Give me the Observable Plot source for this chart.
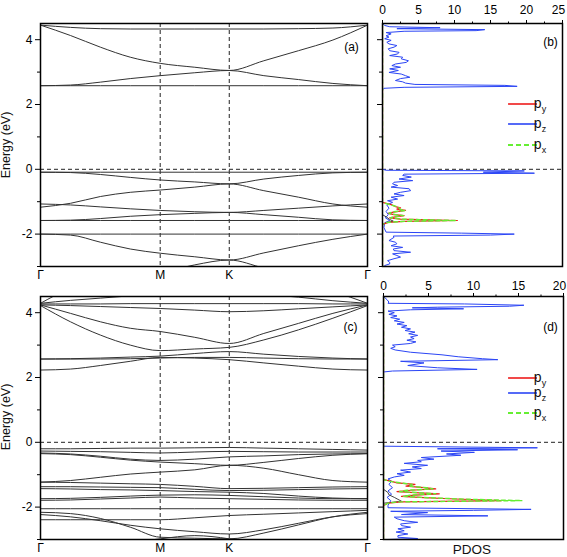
<!DOCTYPE html>
<html><head><meta charset="utf-8">
<script src="https://cdn.jsdelivr.net/npm/d3@7"></script>
<script src="https://cdn.jsdelivr.net/npm/@observablehq/plot@0.6"></script>
<style>
body{margin:0;background:#fff;}
#wrap{position:relative;width:567px;height:557px;font-family:"Liberation Sans",Arial,sans-serif;}
</style></head><body><div id="wrap"></div>
<script>
// ---- k-path ----
const kGrid = [0, 0.25, 0.5, 0.75, 1, 1.289, 1.577, 1.866, 2.155, 2.443, 2.732];
const kTickPos = [0, 1, 1.577, 2.732];
const kTickLabels = ["Γ", "M", "K", "Γ"];
const eMajor = [-2, 0, 2, 4];
const eMinor = [-3, -1, 1, 3];
const pdosTicksB = [0, 5, 10, 15, 20, 25];
const pdosMinorB = [2.5, 7.5, 12.5, 17.5, 22.5];
const pdosTicksD = [0, 5, 10, 15, 20];
const pdosMinorD = [2.5, 7.5, 12.5, 17.5];

// ---- band energies, panel (a) (values at kGrid) ----
const bandsA = [
  [4.45, 4.38, 4.34, 4.33, 4.33, 4.33, 4.33, 4.33, 4.34, 4.36, 4.45],
  [4.45, 4.13, 3.77, 3.46, 3.27, 3.15, 3.05, 3.35, 3.66, 3.99, 4.45],
  [2.58, 2.60, 2.69, 2.80, 2.89, 2.98, 3.05, 2.89, 2.77, 2.65, 2.58],
  [2.58, 2.58, 2.58, 2.58, 2.58, 2.58, 2.58, 2.58, 2.58, 2.58, 2.58],
  [-0.09, -0.09, -0.09, -0.09, -0.09, -0.09, -0.09, -0.09, -0.09, -0.09, -0.09],
  [-0.09, -0.10, -0.16, -0.25, -0.33, -0.39, -0.45, -0.30, -0.19, -0.11, -0.09],
  [-1.17, -1.05, -0.84, -0.71, -0.64, -0.55, -0.45, -0.66, -0.86, -1.07, -1.17],
  [-1.07, -1.10, -1.16, -1.22, -1.27, -1.31, -1.33, -1.27, -1.20, -1.13, -1.07],
  [-1.58, -1.57, -1.52, -1.45, -1.40, -1.36, -1.33, -1.40, -1.48, -1.56, -1.58],
  [-1.58, -1.58, -1.58, -1.58, -1.58, -1.58, -1.58, -1.58, -1.58, -1.58, -1.58],
  [-2.0, -2.0, -2.0, -2.0, -2.0, -2.0, -2.0, -2.0, -2.0, -2.0, -2.0],
  [-2.0, -2.03, -2.25, -2.46, -2.59, -2.70, -2.80, -2.58, -2.36, -2.16, -2.0],
  [-3.6, -3.6, -3.5, -3.35, -3.2, -2.95, -2.80, -3.05, -3.3, -3.5, -3.6]
];

// ---- band energies, panel (c) ----
const bandsC = [
  [4.29, 4.75, 5.0, 5.1, 5.1, 5.1, 5.1, 5.0, 4.9, 4.65, 4.29],
  [4.29, 4.38, 4.45, 4.52, 4.58, 4.60, 4.60, 4.56, 4.48, 4.37, 4.29],
  [4.27, 4.27, 4.27, 4.28, 4.28, 4.28, 4.28, 4.28, 4.28, 4.27, 4.27],
  [4.24, 4.22, 4.19, 4.16, 4.13, 4.08, 4.03, 4.06, 4.12, 4.18, 4.24],
  [4.24, 3.98, 3.72, 3.52, 3.42, 3.24, 3.05, 3.36, 3.67, 3.98, 4.24],
  [4.22, 3.72, 3.31, 3.00, 2.83, 2.88, 2.93, 3.16, 3.47, 3.83, 4.22],
  [2.57, 2.58, 2.60, 2.63, 2.66, 2.74, 2.80, 2.72, 2.65, 2.60, 2.57],
  [2.57, 2.57, 2.57, 2.58, 2.60, 2.62, 2.62, 2.60, 2.58, 2.57, 2.57],
  [2.23, 2.26, 2.37, 2.50, 2.62, 2.60, 2.55, 2.45, 2.35, 2.26, 2.23],
  [-0.20, -0.20, -0.19, -0.18, -0.18, -0.17, -0.16, -0.18, -0.20, -0.22, -0.24],
  [-0.27, -0.28, -0.29, -0.31, -0.33, -0.30, -0.28, -0.29, -0.30, -0.30, -0.30],
  [-0.33, -0.36, -0.43, -0.52, -0.56, -0.52, -0.45, -0.42, -0.38, -0.36, -0.35],
  [-0.35, -0.38, -0.46, -0.55, -0.61, -0.66, -0.71, -0.62, -0.50, -0.40, -0.35],
  [-1.23, -1.18, -1.08, -0.98, -0.92, -0.85, -0.71, -0.80, -1.00, -1.18, -1.23],
  [-1.23, -1.24, -1.26, -1.28, -1.30, -1.36, -1.43, -1.42, -1.40, -1.38, -1.37],
  [-1.37, -1.37, -1.38, -1.39, -1.40, -1.45, -1.49, -1.48, -1.46, -1.44, -1.43],
  [-1.43, -1.44, -1.46, -1.47, -1.49, -1.52, -1.54, -1.58, -1.66, -1.72, -1.74],
  [-1.74, -1.73, -1.70, -1.66, -1.63, -1.62, -1.64, -1.68, -1.72, -1.74, -1.74],
  [-1.79, -1.78, -1.75, -1.72, -1.69, -1.72, -1.74, -1.76, -1.78, -1.79, -1.79],
  [-2.05, -2.05, -2.05, -2.05, -2.05, -2.05, -2.05, -2.05, -2.05, -2.05, -2.05],
  [-2.16, -2.20, -2.35, -2.62, -2.93, -2.96, -2.98, -2.80, -2.55, -2.30, -2.16],
  [-2.23, -2.30, -2.42, -2.56, -2.67, -2.76, -2.83, -2.70, -2.50, -2.30, -2.20],
  [-2.39, -2.39, -2.39, -2.39, -2.39, -2.33, -2.26, -2.22, -2.18, -2.14, -2.10],
  [-3.6, -3.5, -3.3, -3.1, -2.98, -2.88, -2.98, -3.2, -3.4, -3.5, -3.6]
];

// ---- PDOS panel (b) ----
const pzB_E = [4.50, 4.44, 4.40, 4.37, 4.34, 4.31, 4.28, 4.26, 4.22, 4.18, 4.12, 4.08, 4.03, 3.98, 3.92, 3.87, 3.82, 3.77, 3.72, 3.66, 3.61, 3.56, 3.51, 3.46, 3.41, 3.35, 3.30, 3.25, 3.20, 3.15, 3.10, 3.05, 2.99, 2.94, 2.89, 2.84, 2.80, 2.74, 2.70, 2.66, 2.62, 2.59, 2.56, 2.53, 2.50, 2.45,
  0.0, -0.03, -0.05, -0.09, -0.12, -0.15, -0.19, -0.24, -0.30, -0.35, -0.40, -0.45, -0.50, -0.55, -0.60, -0.66, -0.71, -0.76, -0.81, -0.86, -0.92, -0.97, -1.02, -1.10, -1.20, -1.30, -1.40, -1.50, -1.58, -1.65, -1.80, -1.94, -1.97, -2.00, -2.03, -2.06, -2.10, -2.20, -2.25, -2.30, -2.36, -2.41, -2.46, -2.51, -2.56, -2.61, -2.66, -2.71, -2.76, -2.82, -2.87, -2.92, -2.97, -3.0];
const pzB = [0, 0.3, 1.0, 8.0, 2.0, 14.2, 13.0, 3.0, 0.5, 1.2, 0.5, 0.9, 0.3, 1.2, 0.6, 0.9, 2.0, 1.6, 0.8, 1.0, 2.3, 2.1, 1.0, 2.8, 2.6, 3.6, 3.3, 1.8, 1.3, 2.5, 1.0, 2.2, 0.9, 2.6, 3.2, 3.8, 2.5, 1.8, 2.8, 3.2, 4.5, 17.0, 18.7, 3.0, 0.2, 0,
  0, 0.5, 19.7, 14.0, 21.1, 3.0, 2.8, 4.0, 2.3, 4.2, 1.6, 1.4, 2.1, 1.2, 3.7, 3.9, 2.5, 1.6, 3.0, 1.2, 2.1, 0.7, 1.4, 0.6, 0.9, 0.5, 0.8, 0.4, 1.0, 0.3, 0.2, 0.5, 11.0, 18.3, 15.0, 1.5, 1.6, 0.9, 1.8, 2.0, 1.2, 2.8, 1.5, 1.6, 3.9, 1.4, 2.0, 2.5, 1.6, 0.7, 1.0, 1.0, 0.3, 0.2];
const pxyB_E = [4.5, -1.02, -1.09, -1.15, -1.19, -1.23, -1.27, -1.32, -1.36, -1.40, -1.43, -1.47, -1.50, -1.54, -1.58, -1.61, -1.64, -1.70, -3.0];
const pyB = [0, 0, 1.2, 1.8, 2.5, 2.0, 3.2, 1.5, 0.8, 1.6, 3.0, 1.8, 1.0, 2.5, 10.4, 3.0, 0.8, 0, 0];
const pxB = [0, 0, 1.0, 2.0, 2.3, 2.4, 3.1, 1.3, 0.9, 1.8, 2.9, 1.5, 1.1, 2.8, 10.2, 2.6, 0.6, 0, 0];
const sB_E = [-1.40, -1.48, -1.55, -1.60, -1.65, -1.70];
const sB = [0, 0.6, 1.0, 1.5, 0.5, 0];

// ---- PDOS panel (d) ----
const pzD_E = [4.50, 4.40, 4.33, 4.29, 4.27, 4.23, 4.20, 4.17, 4.15, 4.12, 4.09, 4.05, 4.00, 3.95, 3.90, 3.85, 3.80, 3.75, 3.70, 3.65, 3.60, 3.55, 3.50, 3.45, 3.40, 3.35, 3.30, 3.25, 3.20, 3.15, 3.10, 3.05, 3.00, 2.95, 2.90, 2.85, 2.78, 2.70, 2.64, 2.58, 2.55, 2.50, 2.45, 2.37, 2.30, 2.25, 2.20, 2.17,
  -0.12, -0.17, -0.20, -0.23, -0.27, -0.31, -0.36, -0.40, -0.47, -0.52, -0.56, -0.60, -0.65, -0.71, -0.76, -0.81, -0.86, -0.92, -0.97, -1.02, -1.07, -1.13, -1.20, -1.30, -1.40, -1.50, -1.60, -1.70, -1.80, -1.95, -2.02, -2.07, -2.10, -2.13, -2.17, -2.23, -2.27, -2.31, -2.36, -2.42, -2.47, -2.52, -2.57, -2.62, -2.67, -2.73, -2.77, -2.83, -2.88, -2.93, -2.97, -3.0];
const pzD = [0, 0.4, 0.6, 0.5, 9.0, 15.6, 14.0, 6.0, 3.2, 8.9, 3.0, 0.5, 1.2, 0.6, 1.5, 0.8, 1.8, 1.2, 2.3, 1.5, 2.6, 2.0, 3.0, 2.4, 3.5, 2.8, 3.8, 3.0, 3.4, 2.6, 3.6, 3.0, 1.0, 1.3, 0.8, 1.3, 3.0, 6.5, 8.3, 11.0, 12.7, 1.9, 4.5, 2.7, 6.0, 10.4, 1.0, 0,
  0, 17.1, 6.0, 14.9, 6.4, 10.1, 7.0, 8.6, 4.2, 5.6, 3.8, 4.2, 2.3, 4.9, 3.2, 4.2, 1.9, 3.0, 1.5, 2.3, 1.2, 0.5, 0.9, 0.6, 1.0, 0.5, 0.9, 0.4, 0.8, 0.5, 0.5, 16.4, 10.0, 0.8, 4.9, 2.0, 11.6, 1.2, 1.5, 2.3, 3.8, 1.9, 2.0, 3.0, 1.6, 2.3, 1.4, 2.7, 1.6, 1.6, 3.8, 0.5];
const pxyD_E = [4.5, -1.15, -1.20, -1.25, -1.30, -1.35, -1.40, -1.44, -1.48, -1.52, -1.56, -1.59, -1.63, -1.67, -1.71, -1.75, -1.80, -1.84, -1.88, -1.95, -3.0];
const pyD = [0, 0, 0.8, 1.5, 3.5, 2.5, 4.5, 5.8, 3.0, 1.5, 4.0, 6.2, 3.5, 2.0, 4.5, 8.0, 13.1, 2.0, 0.5, 0, 0];
const pxD = [0, 0, 0.6, 1.8, 3.2, 2.8, 4.8, 5.5, 2.6, 1.8, 4.3, 5.8, 3.0, 2.2, 5.0, 8.5, 15.4, 1.5, 0.5, 0, 0];
const sD_E = [-1.45, -1.55, -1.62, -1.70, -1.76, -1.82, -1.88];
const sD = [0, 0.5, 0.6, 1.2, 1.6, 2.0, 0];

const legendNames = ["y", "z", "x"];
const panelLabels = ["(a)", "(b)", "(c)", "(d)"];

// ---- styling ----
const RED = "#ee1c1c", BLUE = "#2b45f5", GREEN = "#66ee33", BAND = "#333";
const FONT = "font-family:'Liberation Sans',Arial,sans-serif;font-size:12px;background:none;overflow:visible;";
const wrap = document.getElementById("wrap");

function place(el, left, top) {
  el.style.position = "absolute";
  el.style.left = left + "px";
  el.style.top = top + "px";
  wrap.appendChild(el);
  return el;
}
const dashed = {stroke: "#222", strokeDasharray: "4,3", strokeWidth: 1};

function bandPanel(bands, mt, mb, label, ldx, ldy) {
  const rows = bands.flatMap((b, j) => b.map((e, i) => ({k: kGrid[i], e, band: j})));
  return Plot.plot({
    width: 370, height: 285, marginLeft: 40, marginRight: 3, marginTop: mt, marginBottom: mb,
    style: FONT,
    x: {domain: [0, kTickPos[3]], axis: null},
    y: {domain: [-3, 4.5], axis: null},
    marks: [
      Plot.ruleY([0], dashed),
      Plot.ruleX(kTickPos.slice(1, 3), dashed),
      Plot.line(rows, {x: "k", y: "e", z: "band", stroke: BAND, strokeWidth: 1, curve: "monotone-x", clip: true}),
      Plot.axisY({ticks: eMajor, tickSize: 5, tickPadding: 3, tickFormat: d => String(d), label: null, fontSize: 12}),
      Plot.axisY({ticks: eMinor, tickSize: 3, tickFormat: () => "", label: null}),
      Plot.axisX({ticks: kTickPos, tickSize: 0, tickPadding: 4, tickFormat: d => kTickLabels[kTickPos.indexOf(d)], label: null, fontSize: 12}),
      Plot.frame({strokeWidth: 1.5}),
      Plot.text([label], {frameAnchor: "top-right", dx: ldx, dy: ldy, textAnchor: "middle", lineAnchor: "middle", fontSize: 12})
    ]
  });
}

function pdosPanel(o) {
  const pz = o.pzE.map((e, i) => ({e, v: o.pz[i]}));
  const py = o.xyE.map((e, i) => ({e, v: o.py[i]}));
  const px = o.xyE.map((e, i) => ({e, v: o.px[i]}));
  const s = o.sE.map((e, i) => ({e, v: o.s[i]}));
  return Plot.plot({
    width: 207, height: 285, marginLeft: o.ml, marginRight: o.mr, marginTop: o.mt, marginBottom: o.mb,
    style: FONT,
    x: {domain: o.xdom, axis: null},
    y: {domain: [-3, 4.5], axis: null},
    marks: [
      Plot.ruleY([0], dashed),
      Plot.line(pz, {x: "v", y: "e", stroke: BLUE, strokeWidth: 1, clip: true}),
      Plot.line(s, {x: "v", y: "e", stroke: "#444", strokeWidth: 1, clip: true}),
      Plot.line(py, {x: "v", y: "e", stroke: RED, strokeWidth: 1.2, clip: true}),
      Plot.line(px, {x: "v", y: "e", stroke: GREEN, strokeWidth: 1.4, strokeDasharray: "4,3", clip: true}),
      Plot.axisX({anchor: "top", ticks: o.ticks, tickSize: 4, tickFormat: () => "", label: null}),
      Plot.axisX({anchor: "top", ticks: o.ticks.slice(0, -1), tickSize: 0, tickPadding: 4 + o.tp, tickFormat: d => String(d), label: null, fontSize: 12}),
      Plot.axisX({anchor: "top", ticks: o.ticks.slice(-1), tickSize: 0, tickPadding: 4 + o.tp, tickFormat: d => String(d), label: null, fontSize: 12, dx: -4}),
      Plot.axisX({anchor: "top", ticks: o.minor, tickSize: 2.5, tickFormat: () => "", label: null}),
      Plot.axisY({ticks: eMajor, tickSize: 5, tickFormat: () => "", label: null}),
      Plot.axisY({ticks: eMinor, tickSize: 3, tickFormat: () => "", label: null}),
      Plot.frame({strokeWidth: 1.5}),
      Plot.text([o.label], {frameAnchor: "top-right", dx: o.ldx, dy: o.ldy, textAnchor: "middle", lineAnchor: "middle", fontSize: 12})
    ]
  });
}

function addLegend(svg, ys) {
  const g = d3.select(svg).append("g");
  const cols = [RED, BLUE, GREEN];
  legendNames.forEach((n, i) => {
    g.append("line").attr("x1", 148).attr("x2", 177).attr("y1", ys[i]).attr("y2", ys[i])
      .attr("stroke", cols[i]).attr("stroke-width", i === 2 ? 2 : 1.6)
      .attr("stroke-dasharray", i === 2 ? "5,3" : null);
    const t = g.append("text").attr("x", 180).attr("y", ys[i] + 3.5)
      .attr("font-size", 14).attr("fill", "#111");
    t.append("tspan").text("p");
    t.append("tspan").attr("font-size", 9).attr("dy", 4).text(n);
  });
}
function addEnergyLabel(svg, cy) {
  d3.select(svg).append("text").attr("transform", `translate(10,${cy}) rotate(-90)`)
    .attr("text-anchor", "middle").attr("font-size", 12.5).attr("fill", "#111").text("Energy (eV)");
}

const a = place(bandPanel(bandsA, 23, 19, panelLabels[0], -16, 24), 0, 0);
addEnergyLabel(a, 145);
const b = place(pdosPanel({pzE: pzB_E, pz: pzB, xyE: pxyB_E, py: pyB, px: pxB, sE: sB_E, s: sB,
  ml: 22, mr: 5, mt: 23, mb: 19, xdom: [0, 25], ticks: pdosTicksB, minor: pdosMinorB, tp: 6,
  label: panelLabels[1], ldx: -12, ldy: 19}), 360, 0);
addLegend(b, [104, 124, 145]);
const c = place(bandPanel(bandsC, 24, 18, panelLabels[2], -17, 31), 0, 272);
addEnergyLabel(c, 145);
const dd = place(pdosPanel({pzE: pzD_E, pz: pzD, xyE: pxyD_E, py: pyD, px: pxD, sE: sD_E, s: sD,
  ml: 23, mr: 4, mt: 24, mb: 18, xdom: [0, 20], ticks: pdosTicksD, minor: pdosMinorD, tp: 3,
  label: panelLabels[3], ldx: -13, ldy: 31}), 360, 272);
addLegend(dd, [106, 121, 141]);
d3.select(dd).append("text").attr("x", 112).attr("y", 282).attr("text-anchor", "middle")
  .attr("font-size", 13.5).attr("fill", "#111").text("PDOS");
</script></body></html>
